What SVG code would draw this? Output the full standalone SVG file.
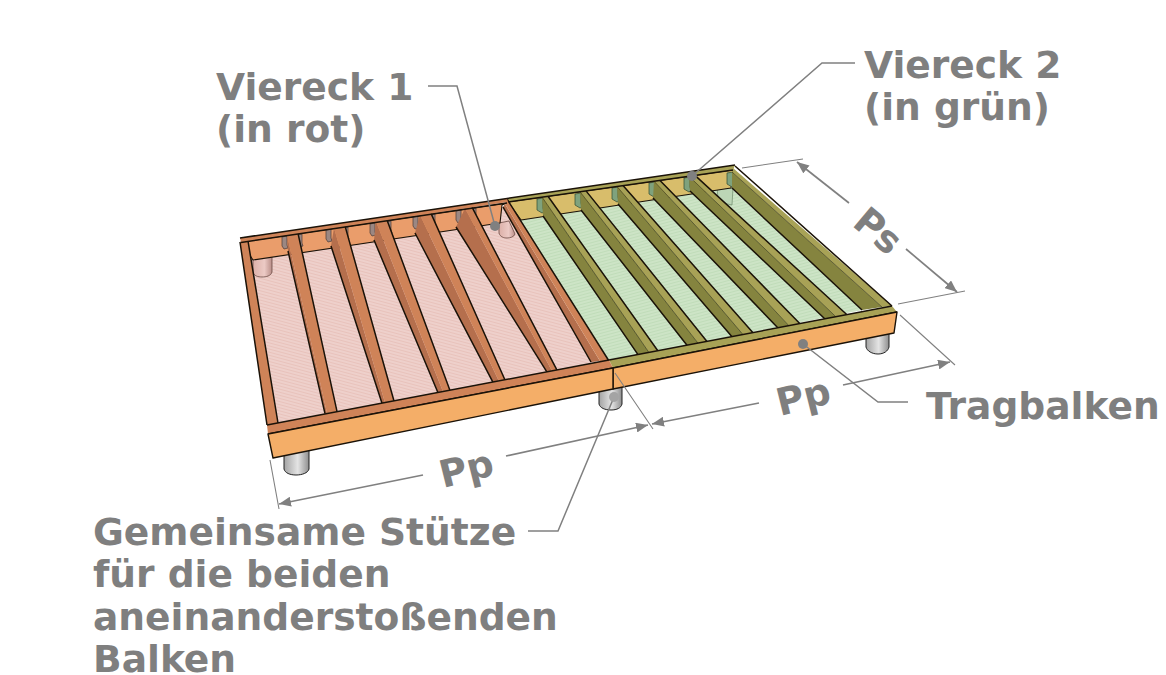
<svg xmlns="http://www.w3.org/2000/svg" width="1166" height="675" viewBox="0 0 1166 675">
<style>
text{font-family:"DejaVu Sans","Liberation Sans",sans-serif;font-weight:700;font-size:37.6px;fill:#7f7f7f}
.e{stroke:#1a1208;stroke-width:1.1;stroke-linejoin:round}
.o{fill:none;stroke:#1a1208;stroke-width:1.5;stroke-linejoin:round}
.t{fill:none;stroke:#3a3a18;stroke-width:.7}
.lt{fill:#cf8358}.ls{fill:#b56f4d}
.gt{fill:#a8a256}.gs{fill:#85843f}
.ld{fill:none;stroke:#808080;stroke-width:1.5}
.dim{fill:none;stroke:#808080;stroke-width:1.7}
.ext{fill:none;stroke:#808080;stroke-width:1.1}
.dot{fill:#808080}
.cyl{fill:url(#cy);stroke:#222;stroke-width:1}
</style>
<defs>
<pattern id="hp" width="5" height="3" patternUnits="userSpaceOnUse" patternTransform="rotate(15)"><rect width="5" height="3" fill="#eed0cb"/><rect width="5" height="1" fill="#e8c2bb"/></pattern>
<pattern id="hg" width="5" height="3" patternUnits="userSpaceOnUse" patternTransform="rotate(-15)"><rect width="5" height="3" fill="#cde4c6"/><rect width="5" height="1" fill="#c0dcb9"/></pattern>
<linearGradient id="cy"><stop offset="0" stop-color="#a3a3a3"/><stop offset=".55" stop-color="#e4e4e4"/><stop offset="1" stop-color="#8e8e8e"/></linearGradient>
<linearGradient id="cp"><stop offset="0" stop-color="#dcb0a8"/><stop offset=".6" stop-color="#eccac5"/><stop offset="1" stop-color="#b98e88"/></linearGradient>
<marker id="a" viewBox="0 0 12 10" refX="12" refY="5" markerWidth="12" markerHeight="10" markerUnits="userSpaceOnUse" orient="auto-start-reverse"><path d="M0 0L12 5L0 10z" fill="#808080"/></marker>
<path id="hl" d="M0 0l5-1v9l1 3-4 1-2-3z" fill="#9b8782" stroke="#4a3a36" stroke-width=".7"/>
<path id="hr" d="M0 1l6-1v10l1 4-2 1-5-3z" fill="#7fa27d" stroke="#2f4a30" stroke-width=".7"/>
</defs>
<rect width="1166" height="675" fill="#fff"/>
<g id="stuetzen">
<path class="cyl" d="M284 455v14c1 4 6 6 12 6s12-2 13-6v-20z"/>
<path class="cyl" d="M599 385v19c1 4 6 6 12 6s10-2 11-6v-22z"/>
<path class="cyl" d="M866 335v12c1 4 6 7 12 7s10-3 11-7v-16z"/>
</g>
<g id="viereck-2">
<path d="M520 220L731 188L862 310L609 361z" fill="url(#hg)"/>
<path d="M717 188l1 10c3 4 8 6 14 7l1-17z" fill="#bcd6b6" stroke="#5e7a5c" stroke-width=".6"/>
<path class="e" d="M508 202L733 170L731 188L521 220z" fill="#d8bd6b"/>
<use href="#hr" x="537" y="198"/><use href="#hr" x="575" y="193"/><use href="#hr" x="612" y="187"/><use href="#hr" x="649" y="182"/><use href="#hr" x="684" y="177"/><use href="#hr" x="727" y="172"/>
<g id="joists-gruen">
<path class="gs" d="M542 197L543 216L638 354.700L649 352.600z"/><path class="gt" d="M542 197L548 196.300L658 351L649 352.600z"/><path class="o" d="M543 216L638 354.700M548 196.300L658 351"/><path class="t" d="M542 197L649 352.600"/>
<path class="gs" d="M580 191.800L581 210L687 345.300L698 343.200z"/><path class="gt" d="M580 191.800L586 190.900L707 341.500L698 343.200z"/><path class="o" d="M581 210L687 345.300M586 190.900L707 341.500"/><path class="t" d="M580 191.800L698 343.200"/>
<path class="gs" d="M617 186.500L618 204L732 336.700L743 334.600z"/><path class="gt" d="M617 186.500L623 185.600L753 332.700L743 334.600z"/><path class="o" d="M618 204L732 336.700M623 185.600L753 332.700"/><path class="t" d="M617 186.500L743 334.600"/>
<path class="gs" d="M654 181.200L653 198L778 328L789 325.900z"/><path class="gt" d="M654 181.200L660 180.400L800 323.800L789 325.900z"/><path class="o" d="M653 198L778 328M660 180.400L800 323.800"/><path class="t" d="M654 181.200L789 325.900"/>
<path class="gs" d="M689 176.300L690 191L825 319L836 316.900z"/><path class="gt" d="M689 176.300L695 175.400L847 314.800L836 316.900z"/><path class="o" d="M690 191L825 319M695 175.400L847 314.800"/><path class="t" d="M689 176.300L836 316.900"/>
<path class="gs" d="M732 172L732 188L862 310L882 307z"/><path class="gt" d="M733 168L892 306L882 307L732 172z"/><path class="o" d="M732 188L862 310M735 166L892 306"/><path class="t" d="M732 172L882 307"/>
</g>
<path class="gt" d="M507 198.500L735 165L733 170L508 202z"/><path class="o" d="M507 198.500L735 165M508 202L733 170"/>
<path class="gt" d="M609 360L892 306L897 312L613 368z"/><path class="o" d="M609 360L892 306M613 368L897 312"/>
<path d="M613 368L897 312L894 333L613 389z" fill="#f4ae68" stroke="#1a1208" stroke-width="1.4" stroke-linejoin="round"/>
</g>
<g id="viereck-1">
<path d="M245 250L503 207L596 362L275 430z" fill="url(#hp)"/>
<path d="M253 258v14c1 4 5 5 9 5s9-1 10-5v-16z" fill="url(#cp)" stroke="#6b4a44" stroke-width=".8"/>
<path d="M499 223v10c1 4 5 5 8 5s7-1 8-4l-6-13z" fill="url(#cp)" stroke="#6b4a44" stroke-width=".8"/>
<path class="e" d="M241 242L507 203L502 205L500 223L253 260z" fill="#ea9d6b"/>
<use href="#hl" x="282" y="237"/><use href="#hl" x="297" y="235"/>
<use href="#hl" x="326" y="230"/><use href="#hl" x="343" y="228"/>
<use href="#hl" x="370" y="224"/><use href="#hl" x="386" y="222"/>
<use href="#hl" x="413" y="217"/><use href="#hl" x="430" y="215"/>
<use href="#hl" x="456" y="211"/><use href="#hl" x="471" y="209"/>
<g id="joists-rot">
<path class="ls" d="M287 235L288 251L325 413.700L327 413.300z"/><path class="lt" d="M287 235L298 233.300L337 411.400L327 413.300z"/><path class="o" d="M288 251L325 413.700M298 233.300L337 411.400"/>
<path class="ls" d="M334 228L331 246L382 403.300L385 402.700z"/><path class="lt" d="M334 228L345 225.900L394 401L385 402.700z"/><path class="o" d="M331 246L382 403.300M345 225.900L394 401"/>
<path class="ls" d="M376 221.400L374 240L438 392.700L443 391.700z"/><path class="lt" d="M376 221.400L387 220L450 390.400L443 391.700z"/><path class="o" d="M374 240L438 392.700M387 220L450 390.400"/>
<path class="ls" d="M420 215L415 233L493 382.300L499 381.200z"/><path class="lt" d="M420 215L431 213.400L505 380L499 381.200z"/><path class="o" d="M415 233L493 382.300M431 213.400L505 380"/>
<path class="ls" d="M465 208.300L456 227L547 372.100L552 371.100z"/><path class="lt" d="M465 208.300L472 207.200L557 370.200L552 371.100z"/><path class="o" d="M456 227L547 372.100M472 207.200L557 370.200"/>
<path class="lt" d="M240 242L248 241L278 423L267 425z"/><path class="o" d="M240 242L267 425M248 241L278 423"/>
<path class="ls" d="M503 207L505 204L600 361L591 362z"/><path class="lt" d="M505 204L507 199L609 361L600 361z"/><path class="o" d="M503 207L591 362M507 199L609 361"/>
</g>
<path class="lt" d="M240 238L507 198.500L508 202L241 242.500z"/><path class="o" d="M240 238L507 198.500M241 242.500L507 203"/>
<path class="lt" d="M267 425L609 360L613 368L268 434z"/><path class="o" d="M267 425L609 360M268 434L613 368"/>
<path d="M268 434L613 368V389L273 458z" fill="#f4ae68" stroke="#1a1208" stroke-width="1.4" stroke-linejoin="round"/>
</g>
<g id="masslinien">
<path class="ext" d="M270 460L279 509M615 373L653 429M900 315L955 365M742 168L803 159M898 304L965 291"/>
<path class="dim" marker-start="url(#a)" d="M279 504L423 475"/>
<path class="dim" marker-end="url(#a)" d="M506 456L648 425"/>
<path class="dim" marker-start="url(#a)" d="M652 424L759 403"/>
<path class="dim" marker-end="url(#a)" d="M843 385L950 362"/>
<path class="dim" marker-start="url(#a)" d="M797 162L849 203"/>
<path class="dim" marker-end="url(#a)" d="M906 249L957 292"/>
</g>
<g id="hinweislinien">
<path class="ld" d="M428 86H457L495 226"/><circle class="dot" cx="495" cy="226" r="5"/>
<path class="ld" d="M855 63H822L692 176"/><circle class="dot" cx="692" cy="176" r="5"/>
<path class="ld" d="M908 402H878L803 344"/><circle class="dot" cx="803" cy="344" r="5"/>
<path class="ld" d="M528 531H558L614 397"/><circle cx="614" cy="397" r="5" fill="#a4a4a4"/>
</g>
<g id="beschriftung">
<text x="216" y="100">Viereck 1</text>
<text x="216" y="142">(in rot)</text>
<text x="864" y="78">Viereck 2</text>
<text x="864" y="120">(in grün)</text>
<text x="926" y="419">Tragbalken</text>
<text x="93" y="545">Gemeinsame Stütze</text>
<text x="93" y="587">für die beiden</text>
<text x="93" y="630">aneinanderstoßenden</text>
<text x="93" y="672">Balken</text>
<text transform="translate(443 488) rotate(-14)">Pp</text>
<text transform="translate(780 416) rotate(-14)">Pp</text>
<text transform="translate(851 225) rotate(40)">Ps</text>
</g>
</svg>
